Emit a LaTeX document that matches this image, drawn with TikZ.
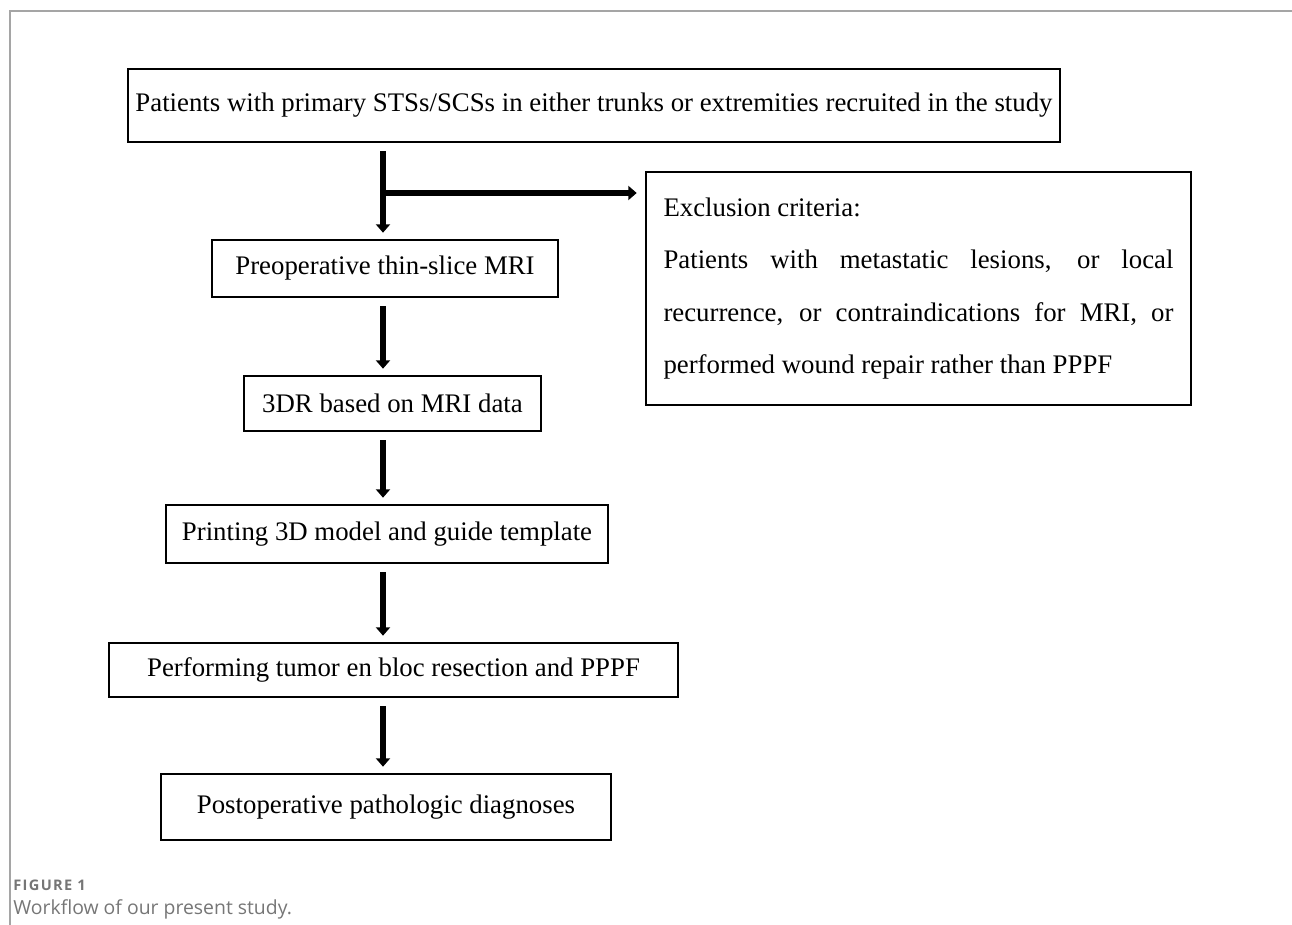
\documentclass[tikz,border=0pt]{standalone}
\usepackage{fontspec}
\setmainfont{Liberation Serif}
\newfontfamily\capfont{Open Sans}
\newfontfamily\capbold{Open Sans}[LetterSpace=9]
\usetikzlibrary{arrows.meta}
\definecolor{framegray}{RGB}{165,165,165}
\definecolor{capgray}{RGB}{118,118,118}

\begin{document}
\begin{tikzpicture}[x=0.5pt, y=-0.5pt,
        box/.style={draw, line width=1.3pt, inner sep=0pt, align=center,
                    font=\fontsize{13.4}{16}\selectfont},
        flow/.style={line width=3.3pt, -{Triangle[length=4.2pt, width=7pt]},
                     shorten <=4pt, shorten >=3pt},
        figcap/.style={anchor=base west, inner sep=0pt, text=capgray}
      ]
      \useasboundingbox (0,0) rectangle (1292,925);
      \draw[framegray, line width=1pt] (10,925) -- (10,11) -- (1292,11);
      \node[box, minimum width=466pt, minimum height=36.5pt] (top) at (594,105.5)
        {Patients with primary STSs/SCSs in either trunks or extremities recruited in the study};
      \node[box, minimum width=272.5pt, minimum height=116.5pt, text width=255pt, align=justify,
            font=\fontsize{13.4}{26.3}\selectfont] (excl) at (918.5,288.5)
        {Exclusion criteria:\\ Patients with metastatic lesions, or local\linebreak
         recurrence, or contraindications for MRI, or\linebreak
         performed wound repair rather than PPPF};
      \node[box, minimum width=173pt, minimum height=28.5pt] (preop) at (385,268.5)
        {Preoperative thin-slice MRI};
      \node[box, minimum width=148.5pt, minimum height=27.5pt] (recon) at (392.5,403.5)
        {3DR based on MRI data};
      \node[box, minimum width=221pt, minimum height=29pt] (print) at (387,534)
        {Printing 3D model and guide template};
      \node[box, minimum width=284.5pt, minimum height=27pt] (resect) at (393.5,670)
        {Performing tumor en bloc resection and PPPF};
      \node[box, minimum width=225pt, minimum height=33pt] (postop) at (386,807)
        {Postoperative pathologic diagnoses};
      \coordinate (spine) at (383,0);
      \coordinate (split) at (383,193);
      \draw[flow] (spine |- top.south) -- (spine |- preop.north);
      \draw[flow, shorten <=1pt, shorten >=4pt] (split) -- (split -| excl.west);
      \draw[flow] (spine |- preop.south) -- (spine |- recon.north);
      \draw[flow] (spine |- recon.south) -- (spine |- print.north);
      \draw[flow] (spine |- print.south) -- (spine |- resect.north);
      \draw[flow] (spine |- resect.south) -- (spine |- postop.north);
      \node[figcap, font=\capbold\bfseries\fontsize{7.3}{9}\selectfont] (fig) at (13,890) {FIGURE 1};
      \node[figcap, font=\capfont\fontsize{9.7}{12}\selectfont] (title) at (13,914) {Workflow of our present study.};
    \end{tikzpicture}
\end{document}
